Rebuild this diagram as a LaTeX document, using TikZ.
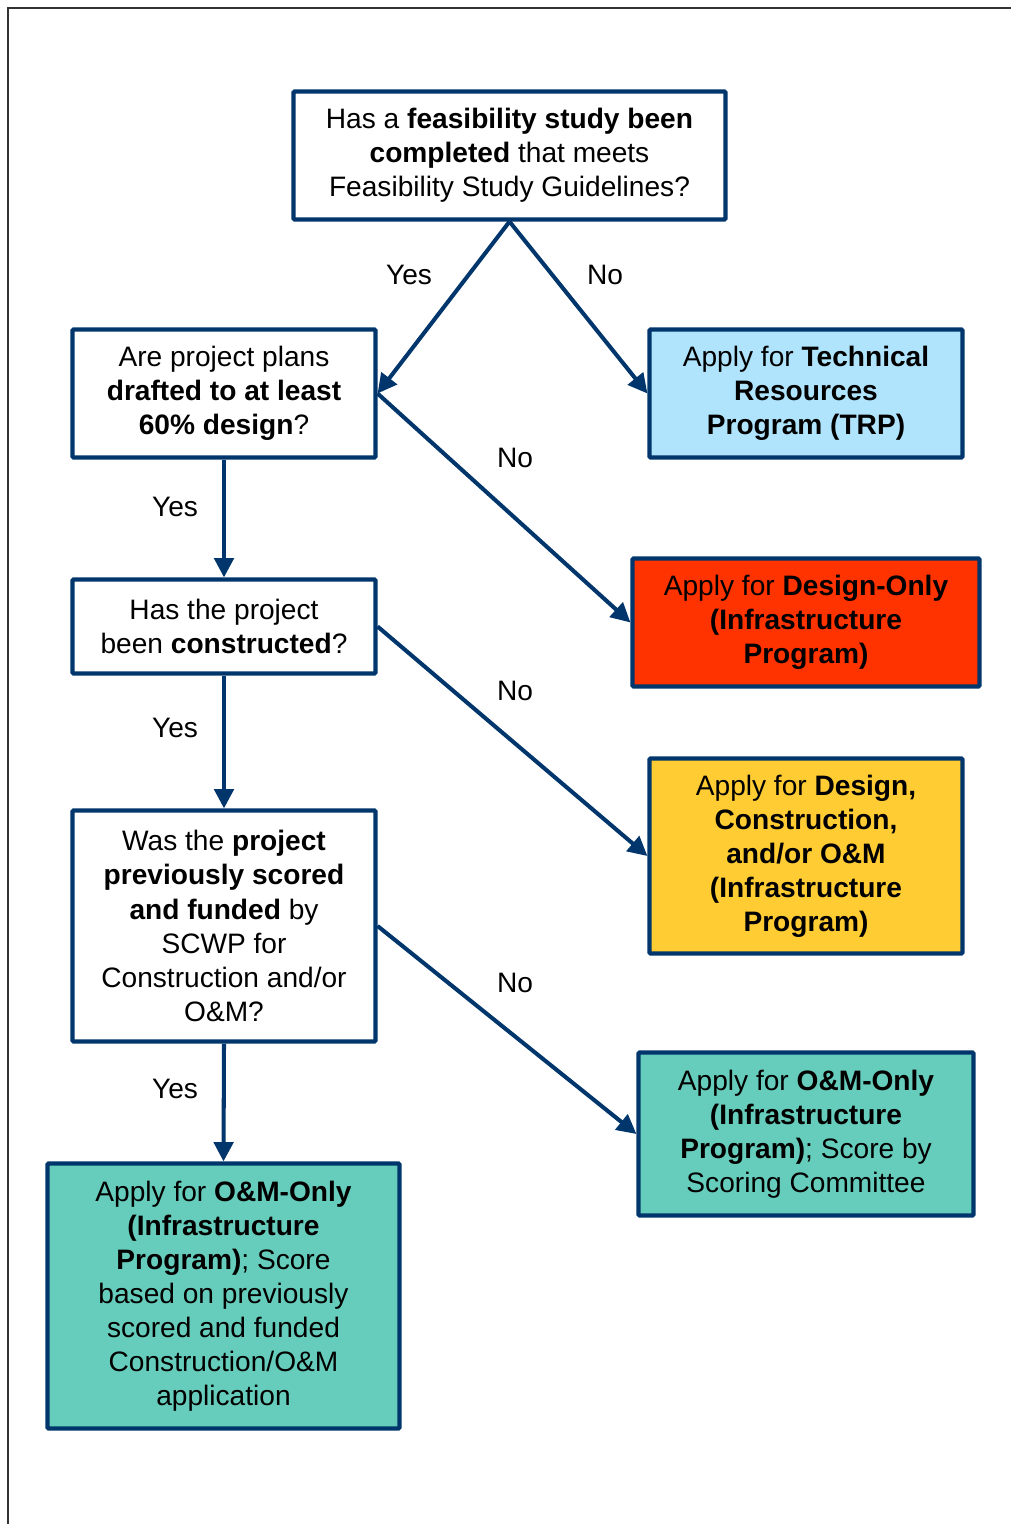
\documentclass[tikz,border=0pt]{standalone}
\usepackage{fontspec}
\setmainfont{Liberation Sans}
\usepackage{tikz}
\usetikzlibrary{arrows.meta}
\usepackage{xcolor}
\definecolor{navy}{RGB}{0,54,107}
\definecolor{trpblue}{RGB}{176,228,252}
\definecolor{designred}{RGB}{255,51,0}
\definecolor{buildyellow}{RGB}{255,204,51}
\definecolor{omgreen}{RGB}{102,204,187}

\begin{document}
\begin{tikzpicture}[x=0.02cm, y=-0.02cm,
font=\fontsize{16}{19.4}\selectfont,
boxnode/.style={rectangle, draw=navy, line width=2.4pt, rounded corners=0.6pt, align=center, inner sep=0pt},
questionnode/.style={boxnode, fill=white},
trpnode/.style={boxnode, fill=trpblue},
designnode/.style={boxnode, fill=designred},
buildnode/.style={boxnode, fill=buildyellow},
omnode/.style={boxnode, fill=omgreen},
answer/.style={inner sep=0pt},
flow/.style={draw=navy, line width=2.3pt, -{Triangle[length=11pt, width=11pt]}}]
\useasboundingbox (0,0) rectangle (1011,1524);
\draw[line width=1.1pt, color=black!80] (8,1524) -- (8,8) -- (1011,8);

\node[questionnode, minimum width=8.64cm, minimum height=2.56cm] (feas) at (509.5,155.5)
  {Has a \textbf{feasibility study been}\\ \textbf{completed} that meets\\ Feasibility Study Guidelines?};
\node[questionnode, minimum width=6.06cm, minimum height=2.56cm] (plans) at (224,393.5)
  {Are project plans\\ \textbf{drafted to at least}\\ \textbf{60\% design}?};
\node[questionnode, minimum width=6.06cm, minimum height=1.88cm] (built) at (224,626.5)
  {Has the project\\ been \textbf{constructed}?};
\node[questionnode, minimum width=6.06cm, minimum height=4.62cm] (scored) at (224,926)
  {Was the \textbf{project}\\ \textbf{previously scored}\\ \textbf{and funded} by\\ SCWP for\\ Construction and/or\\ O\&M?};

\node[trpnode, minimum width=6.26cm, minimum height=2.56cm] (trp) at (806,393.5)
  {Apply for \textbf{Technical}\\ \textbf{Resources}\\ \textbf{Program (TRP)}};
\node[designnode, minimum width=6.94cm, minimum height=2.56cm] (design) at (806,622.5)
  {Apply for \textbf{Design-Only}\\ \textbf{(Infrastructure}\\ \textbf{Program)}};
\node[buildnode, minimum width=6.26cm, minimum height=3.9cm] (build) at (806,856)
  {Apply for \textbf{Design,}\\ \textbf{Construction,}\\ \textbf{and/or O\&M}\\ \textbf{(Infrastructure}\\ \textbf{Program)}};
\node[omnode, minimum width=6.7cm, minimum height=3.26cm] (omright) at (806,1134)
  {Apply for \textbf{O\&M-Only}\\ \textbf{(Infrastructure}\\ \textbf{Program)}; Score by\\ Scoring Committee};
\node[omnode, minimum width=7.04cm, minimum height=5.3cm] (omleft) at (223.5,1296)
  {Apply for \textbf{O\&M-Only}\\ \textbf{(Infrastructure}\\ \textbf{Program)}; Score\\ based on previously\\ scored and funded\\ Construction/O\&M\\ application};

\draw[flow] (feas.south) -- (plans.east);
\draw[flow] (feas.south) -- (trp.west);
\draw[flow] (plans.east) -- (design.west);
\draw[flow] (plans.south) -- (built.north);
\draw[flow] (built.east) -- (build.west);
\draw[flow] (built.south) -- (scored.north);
\draw[flow] (scored.east) -- (omright.west);
\draw[flow] (scored.south) -- (omleft.north);

\node[answer] (yes1) at (409,275) {Yes};
\node[answer] (no1) at (605,275) {No};
\node[answer] (no2) at (515,458) {No};
\node[answer] (yes2) at (175,507) {Yes};
\node[answer] (no3) at (515,691) {No};
\node[answer] (yes3) at (175,728) {Yes};
\node[answer] (no4) at (515,983) {No};
\node[answer] (yes4) at (175,1089) {Yes};
\end{tikzpicture}
\end{document}
